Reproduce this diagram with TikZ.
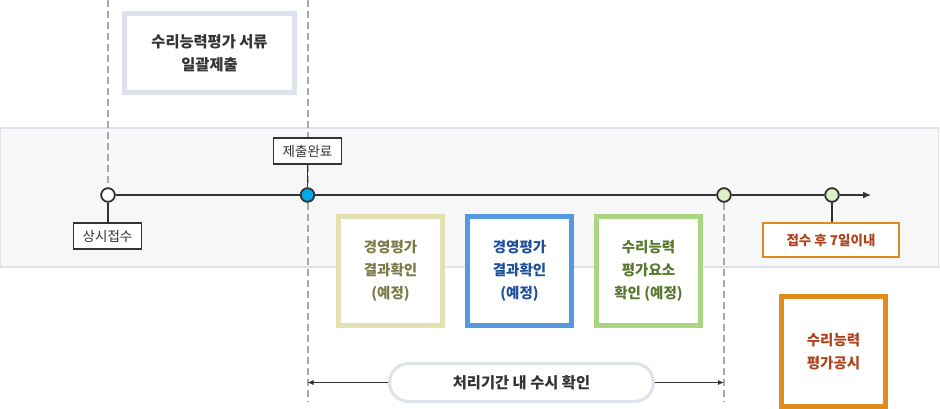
\documentclass[tikz,border=0pt]{standalone}
\usepackage{fontspec}
\setmainfont{Noto Sans CJK KR}
\usetikzlibrary{arrows.meta}
\definecolor{bandfill}{HTML}{F7F7F8}
\definecolor{bandline}{HTML}{DDE1E8}
\definecolor{dashgray}{HTML}{AAAAAA}
\definecolor{topline}{HTML}{DEE2EA}
\definecolor{txtdark}{HTML}{333333}
\definecolor{khaki}{HTML}{E3E1B2}
\definecolor{khakitxt}{HTML}{7B7B4A}
\definecolor{bluebox}{HTML}{5599E0}
\definecolor{bluetxt}{HTML}{1E4F9C}
\definecolor{greenbox}{HTML}{A9D67E}
\definecolor{greentxt}{HTML}{55782B}
\definecolor{orangebox}{HTML}{E08B1E}
\definecolor{orangetxt}{HTML}{B0421B}
\definecolor{dotblue}{HTML}{00A8E8}
\definecolor{dotgreen}{HTML}{E2F0C9}
\tikzset{
  bigbox/.style={draw, line width=5pt, fill=white, minimum width=104pt, minimum height=109pt, align=center, inner sep=0pt, font=\fontsize{14.5}{23}\selectfont\bfseries},
  tag/.style={draw=txtdark, line width=1.2pt, fill=white, align=center, inner sep=0pt, text=txtdark, font=\fontsize{13.5}{16}\selectfont},
  dot/.style={circle, draw=txtdark, line width=1.7pt, minimum size=13.5pt, inner sep=0pt},
  vdash/.style={draw=dashgray, line width=2pt, dash pattern=on 7pt off 4pt},
  thin/.style={draw=txtdark, line width=1.2pt}
}
\begin{document}
\begin{tikzpicture}[x=1pt,y=-1pt]
\useasboundingbox (0,0) rectangle (940,409);
% band
\draw[fill=bandfill, draw=bandline, line width=1.2pt] (0.6,128) rectangle (938.4,267);
% dots
\node[dot, fill=white] (d1) at (108,195) {};
\node[dot, fill=dotblue] (d2) at (307.5,195) {};
\node[dot, fill=dotgreen] (d3) at (724,195) {};
\node[dot, fill=dotgreen] (d4) at (832,195) {};
\coordinate (tipr) at (871,195);
% dashed verticals
\coordinate (v1t) at (108,0);
\coordinate (v2t) at (307.5,0);
\coordinate (v2b) at (307.5,402);
\coordinate (v3b) at (724,402);
\path[vdash] (v1t) -- (d1.north);
\path[vdash] (v2t) -- (d2.north);
\path[vdash] (d2.south) -- (v2b);
\path[vdash] (d3.south) -- (v3b);
% timeline
\draw[thin] (d1) -- (d2);
\draw[thin] (d2) -- (d3);
\draw[thin] (d3) -- (d4);
\draw[thin, -{Latex[length=8pt,width=7pt]}] (d4) -- (tipr);
% tags
\node[tag, minimum width=68pt, minimum height=26pt] (t1) at (107.5,236) {상시접수};
\node[tag, minimum width=68pt, minimum height=26pt] (t2) at (307.5,151) {제출완료};
\node[tag, draw=orangebox, line width=1.6pt, text=orangetxt, minimum width=136pt, minimum height=34pt, font=\fontsize{13.5}{16}\selectfont\bfseries] (t3) at (831,240) {접수 후 7일이내};
\draw[thin] (d1) -- (t1.north -| d1);
\draw[thin] (d2) -- (t2.south -| d2);
\draw[thin] (d4) -- (t3.north -| d4);
% dots on top
\node[dot, fill=white] at (d1) {};
\node[dot, fill=dotblue] at (d2) {};
\node[dot, fill=dotgreen] at (d3) {};
\node[dot, fill=dotgreen] at (d4) {};
% top box
\node[bigbox, draw=topline, text=txtdark, minimum width=170pt, minimum height=79pt, font=\fontsize{15.3}{23}\selectfont\bfseries] (top) at (209.5,53) {수리능력평가 서류\\일괄제출};
% middle boxes
\node[bigbox, draw=khaki, text=khakitxt] (b1) at (390.5,271) {경영평가\\결과확인\\(예정)};
\node[bigbox, draw=bluebox, text=bluetxt] (b2) at (519.5,271) {경영평가\\결과확인\\(예정)};
\node[bigbox, draw=greenbox, text=greentxt] (b3) at (648.5,270.5) {수리능력\\평가요소\\확인 (예정)};
\node[bigbox, draw=orangebox, text=orangetxt, minimum height=110pt] (b4) at (833.5,351.5) {수리능력\\평가공시};
% pill
\node[draw=topline, line width=3pt, fill=white, rounded corners=19pt, minimum width=264pt, minimum height=38pt, inner sep=0pt, text=txtdark, font=\fontsize{15.3}{18}\selectfont\bfseries] (pill) at (521.5,382.5) {처리기간 내 수시 확인};
\coordinate (al) at (307.5,382.5);
\coordinate (ar) at (724,382.5);
\draw[draw=txtdark, line width=0.9pt, -{Latex[length=6pt,width=5pt]}] (pill.west) -- (al);
\draw[draw=txtdark, line width=0.9pt, -{Latex[length=6pt,width=5pt]}] (pill.east) -- (ar);
\end{tikzpicture}
\end{document}
